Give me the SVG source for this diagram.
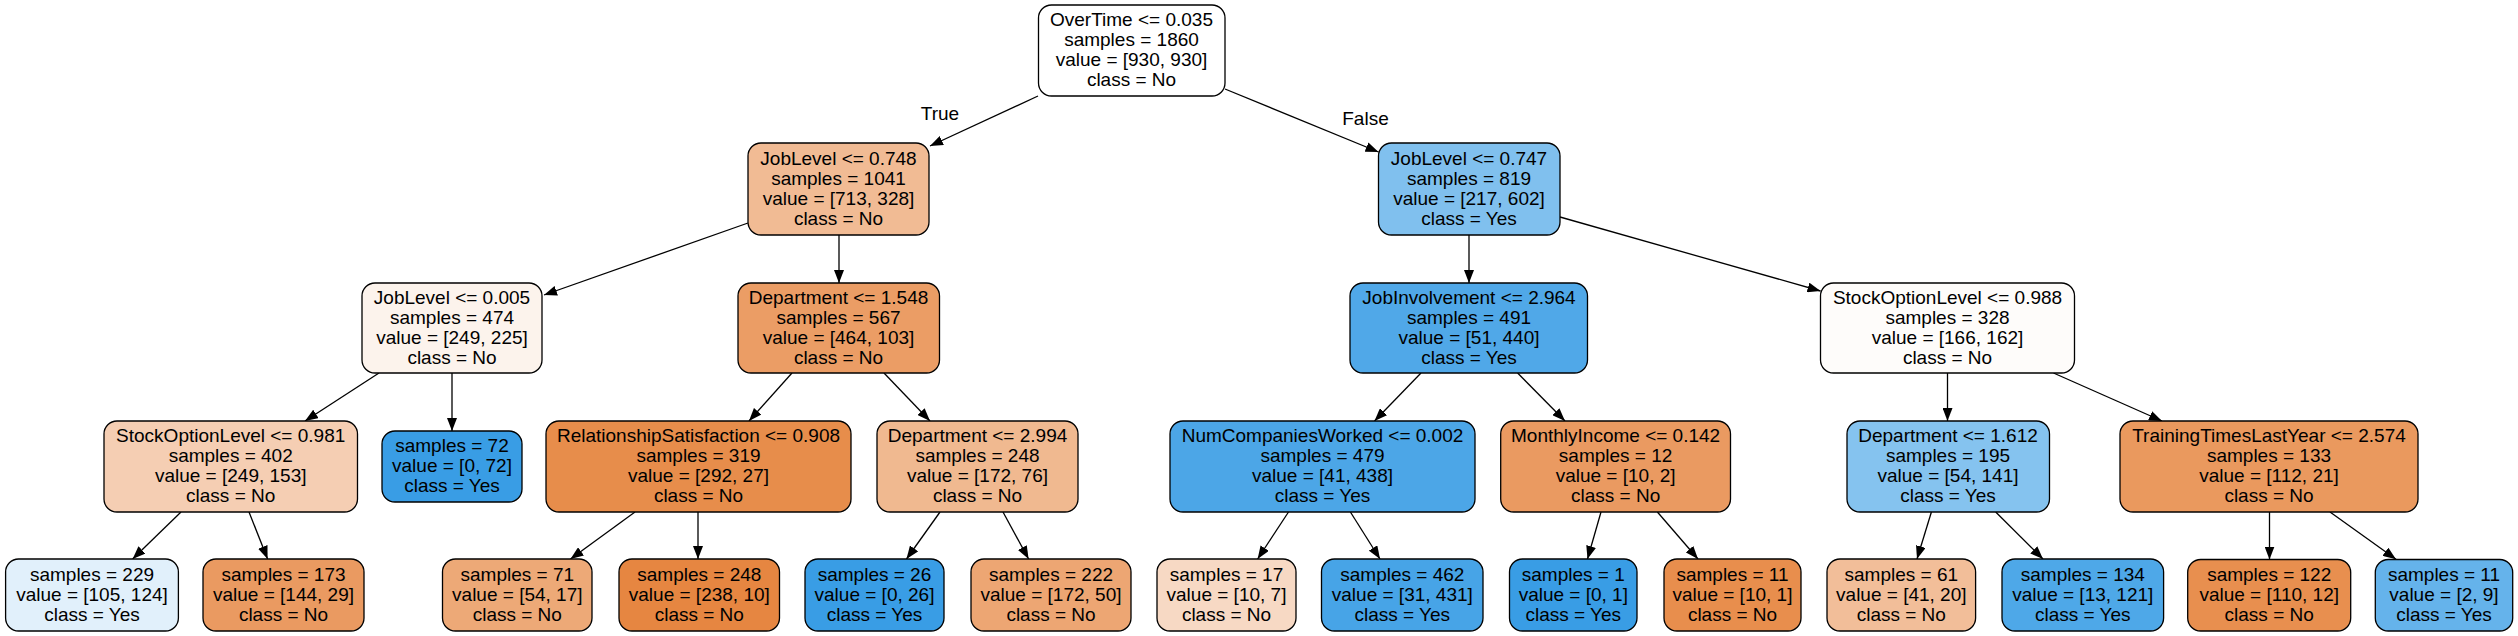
<svg xmlns="http://www.w3.org/2000/svg" width="2518" height="636" viewBox="0 0 2518 636">
<style>
.n rect{stroke:#000;stroke-width:1.3}
text{font-family:"Liberation Sans",Arial,Helvetica,sans-serif;font-size:19px;fill:#000;text-anchor:middle}
.e line{stroke:#000;stroke-width:1.3;marker-end:url(#ah)}
</style>
<defs>
<marker id="ah" viewBox="0 0 13 10" refX="13" refY="5" markerWidth="13" markerHeight="10" markerUnits="userSpaceOnUse" orient="auto">
<path d="M0,0 L13,5 L0,10 z" fill="#000"/>
</marker>
</defs>
<rect x="0" y="0" width="2518" height="636" fill="#fff"/>
<g id="edges" class="e">
<line x1="1038" y1="96" x2="930" y2="146"/>
<line x1="1225" y1="89" x2="1378.5" y2="152"/>
<line x1="748" y1="223" x2="544" y2="295"/>
<line x1="839" y1="235" x2="839" y2="283"/>
<line x1="1469" y1="235" x2="1469" y2="283"/>
<line x1="1560" y1="217" x2="1820.5" y2="291"/>
<line x1="379" y1="373" x2="305" y2="421"/>
<line x1="452" y1="373" x2="452" y2="431"/>
<line x1="792" y1="373" x2="749" y2="421"/>
<line x1="884" y1="373" x2="930" y2="421"/>
<line x1="1421" y1="373" x2="1374.5" y2="421"/>
<line x1="1517.6" y1="373" x2="1565" y2="421"/>
<line x1="1947.5" y1="373" x2="1947.5" y2="421"/>
<line x1="2053.5" y1="373" x2="2162" y2="421"/>
<line x1="181" y1="512" x2="132.6" y2="559"/>
<line x1="249" y1="512" x2="267.6" y2="559"/>
<line x1="635" y1="512" x2="570.5" y2="559"/>
<line x1="698" y1="512" x2="698" y2="559"/>
<line x1="940" y1="512" x2="906.5" y2="559"/>
<line x1="1003" y1="512" x2="1028.6" y2="559"/>
<line x1="1288.5" y1="512" x2="1257.6" y2="559"/>
<line x1="1350.4" y1="512" x2="1380" y2="559"/>
<line x1="1601" y1="512" x2="1587.5" y2="559"/>
<line x1="1657.4" y1="512" x2="1698" y2="559"/>
<line x1="1931.4" y1="512" x2="1917" y2="559"/>
<line x1="1995.7" y1="512" x2="2043" y2="559"/>
<line x1="2269.5" y1="512" x2="2269.5" y2="559.5"/>
<line x1="2330" y1="512" x2="2396" y2="559.3"/>
<text x="940" y="120">True</text>
<text x="1365.5" y="125">False</text>
</g>
<g id="n0" class="n"><rect x="1038.5" y="5" width="186.5" height="91" rx="13" fill="#ffffff"/>
<text x="1131.5" y="26">OverTime &lt;= 0.035</text><text x="1131.5" y="46">samples = 1860</text><text x="1131.5" y="66">value = [930, 930]</text><text x="1131.5" y="86">class = No</text></g>
<g id="n1" class="n"><rect x="748" y="143" width="181" height="92" rx="13" fill="#f1bb94"/>
<text x="838.5" y="164.5">JobLevel &lt;= 0.748</text><text x="838.5" y="184.5">samples = 1041</text><text x="838.5" y="204.5">value = [713, 328]</text><text x="838.5" y="224.5">class = No</text></g>
<g id="n2" class="n"><rect x="1378.5" y="143" width="181.5" height="92" rx="13" fill="#80c0ee"/>
<text x="1469" y="164.5">JobLevel &lt;= 0.747</text><text x="1469" y="184.5">samples = 819</text><text x="1469" y="204.5">value = [217, 602]</text><text x="1469" y="224.5">class = Yes</text></g>
<g id="n3" class="n"><rect x="362" y="283" width="180" height="90" rx="13" fill="#fcf3ec"/>
<text x="452" y="303.5">JobLevel &lt;= 0.005</text><text x="452" y="323.5">samples = 474</text><text x="452" y="343.5">value = [249, 225]</text><text x="452" y="363.5">class = No</text></g>
<g id="n4" class="n"><rect x="738" y="283" width="201.5" height="90" rx="13" fill="#eb9d65"/>
<text x="838.5" y="303.5">Department &lt;= 1.548</text><text x="838.5" y="323.5">samples = 567</text><text x="838.5" y="343.5">value = [464, 103]</text><text x="838.5" y="363.5">class = No</text></g>
<g id="n5" class="n"><rect x="1350" y="283" width="237.5" height="90" rx="13" fill="#50a8e8"/>
<text x="1469" y="303.5">JobInvolvement &lt;= 2.964</text><text x="1469" y="323.5">samples = 491</text><text x="1469" y="343.5">value = [51, 440]</text><text x="1469" y="363.5">class = Yes</text></g>
<g id="n6" class="n"><rect x="1820.5" y="283" width="254" height="90" rx="13" fill="#fefcfa"/>
<text x="1947.5" y="303.5">StockOptionLevel &lt;= 0.988</text><text x="1947.5" y="323.5">samples = 328</text><text x="1947.5" y="343.5">value = [166, 162]</text><text x="1947.5" y="363.5">class = No</text></g>
<g id="n7" class="n"><rect x="104" y="421" width="253.5" height="91" rx="13" fill="#f5ceb3"/>
<text x="230.7" y="442">StockOptionLevel &lt;= 0.981</text><text x="230.7" y="462">samples = 402</text><text x="230.7" y="482">value = [249, 153]</text><text x="230.7" y="502">class = No</text></g>
<g id="n8" class="n"><rect x="382" y="431" width="140" height="71" rx="13" fill="#399de5"/>
<text x="452" y="452">samples = 72</text><text x="452" y="472">value = [0, 72]</text><text x="452" y="492">class = Yes</text></g>
<g id="n9" class="n"><rect x="546" y="421" width="305" height="91" rx="13" fill="#e78d4b"/>
<text x="698.5" y="442">RelationshipSatisfaction &lt;= 0.908</text><text x="698.5" y="462">samples = 319</text><text x="698.5" y="482">value = [292, 27]</text><text x="698.5" y="502">class = No</text></g>
<g id="n10" class="n"><rect x="877" y="421" width="201" height="91" rx="13" fill="#f0b990"/>
<text x="977.5" y="442">Department &lt;= 2.994</text><text x="977.5" y="462">samples = 248</text><text x="977.5" y="482">value = [172, 76]</text><text x="977.5" y="502">class = No</text></g>
<g id="n11" class="n"><rect x="1170" y="421" width="305" height="91" rx="13" fill="#4ca6e7"/>
<text x="1322.5" y="442">NumCompaniesWorked &lt;= 0.002</text><text x="1322.5" y="462">samples = 479</text><text x="1322.5" y="482">value = [41, 438]</text><text x="1322.5" y="502">class = Yes</text></g>
<g id="n12" class="n"><rect x="1500.7" y="421" width="229.8" height="91" rx="13" fill="#ea9a61"/>
<text x="1615.6" y="442">MonthlyIncome &lt;= 0.142</text><text x="1615.6" y="462">samples = 12</text><text x="1615.6" y="482">value = [10, 2]</text><text x="1615.6" y="502">class = No</text></g>
<g id="n13" class="n"><rect x="1847" y="421" width="202.5" height="91" rx="13" fill="#85c3ef"/>
<text x="1948" y="442">Department &lt;= 1.612</text><text x="1948" y="462">samples = 195</text><text x="1948" y="482">value = [54, 141]</text><text x="1948" y="502">class = Yes</text></g>
<g id="n14" class="n"><rect x="2120" y="421" width="298" height="91" rx="13" fill="#ea995e"/>
<text x="2269" y="442">TrainingTimesLastYear &lt;= 2.574</text><text x="2269" y="462">samples = 133</text><text x="2269" y="482">value = [112, 21]</text><text x="2269" y="502">class = No</text></g>
<g id="n15" class="n"><rect x="5.6" y="559" width="172.8" height="72" rx="13" fill="#e1f0fb"/>
<text x="92" y="580.5">samples = 229</text><text x="92" y="600.5">value = [105, 124]</text><text x="92" y="620.5">class = Yes</text></g>
<g id="n16" class="n"><rect x="203" y="559" width="161" height="72" rx="13" fill="#ea9a61"/>
<text x="283.5" y="580.5">samples = 173</text><text x="283.5" y="600.5">value = [144, 29]</text><text x="283.5" y="620.5">class = No</text></g>
<g id="n17" class="n"><rect x="442.5" y="559" width="149.5" height="72" rx="13" fill="#eda977"/>
<text x="517.3" y="580.5">samples = 71</text><text x="517.3" y="600.5">value = [54, 17]</text><text x="517.3" y="620.5">class = No</text></g>
<g id="n18" class="n"><rect x="619" y="559" width="160.5" height="72" rx="13" fill="#e68641"/>
<text x="699.3" y="580.5">samples = 248</text><text x="699.3" y="600.5">value = [238, 10]</text><text x="699.3" y="620.5">class = No</text></g>
<g id="n19" class="n"><rect x="805" y="559" width="139" height="72" rx="13" fill="#399de5"/>
<text x="874.5" y="580.5">samples = 26</text><text x="874.5" y="600.5">value = [0, 26]</text><text x="874.5" y="620.5">class = Yes</text></g>
<g id="n20" class="n"><rect x="971" y="559" width="160" height="72" rx="13" fill="#eda673"/>
<text x="1051" y="580.5">samples = 222</text><text x="1051" y="600.5">value = [172, 50]</text><text x="1051" y="620.5">class = No</text></g>
<g id="n21" class="n"><rect x="1157" y="559" width="139" height="72" rx="13" fill="#f7d9c4"/>
<text x="1226.5" y="580.5">samples = 17</text><text x="1226.5" y="600.5">value = [10, 7]</text><text x="1226.5" y="620.5">class = No</text></g>
<g id="n22" class="n"><rect x="1321.5" y="559" width="161.5" height="72" rx="13" fill="#47a4e7"/>
<text x="1402.3" y="580.5">samples = 462</text><text x="1402.3" y="600.5">value = [31, 431]</text><text x="1402.3" y="620.5">class = Yes</text></g>
<g id="n23" class="n"><rect x="1509.5" y="559" width="127.5" height="72" rx="13" fill="#399de5"/>
<text x="1573.3" y="580.5">samples = 1</text><text x="1573.3" y="600.5">value = [0, 1]</text><text x="1573.3" y="620.5">class = Yes</text></g>
<g id="n24" class="n"><rect x="1664" y="559" width="137" height="72" rx="13" fill="#e88e4d"/>
<text x="1732.5" y="580.5">samples = 11</text><text x="1732.5" y="600.5">value = [10, 1]</text><text x="1732.5" y="620.5">class = No</text></g>
<g id="n25" class="n"><rect x="1827" y="559" width="148.6" height="72" rx="13" fill="#f2be99"/>
<text x="1901.3" y="580.5">samples = 61</text><text x="1901.3" y="600.5">value = [41, 20]</text><text x="1901.3" y="620.5">class = No</text></g>
<g id="n26" class="n"><rect x="2002" y="559" width="161.6" height="72" rx="13" fill="#4ea8e8"/>
<text x="2082.8" y="580.5">samples = 134</text><text x="2082.8" y="600.5">value = [13, 121]</text><text x="2082.8" y="620.5">class = Yes</text></g>
<g id="n27" class="n"><rect x="2187.7" y="559.5" width="163" height="71.5" rx="13" fill="#e88f4f"/>
<text x="2269.2" y="580.5">samples = 122</text><text x="2269.2" y="600.5">value = [110, 12]</text><text x="2269.2" y="620.5">class = No</text></g>
<g id="n28" class="n"><rect x="2375.3" y="559.5" width="137.4" height="71.5" rx="13" fill="#65b3eb"/>
<text x="2444" y="580.5">samples = 11</text><text x="2444" y="600.5">value = [2, 9]</text><text x="2444" y="620.5">class = Yes</text></g>
</svg>
